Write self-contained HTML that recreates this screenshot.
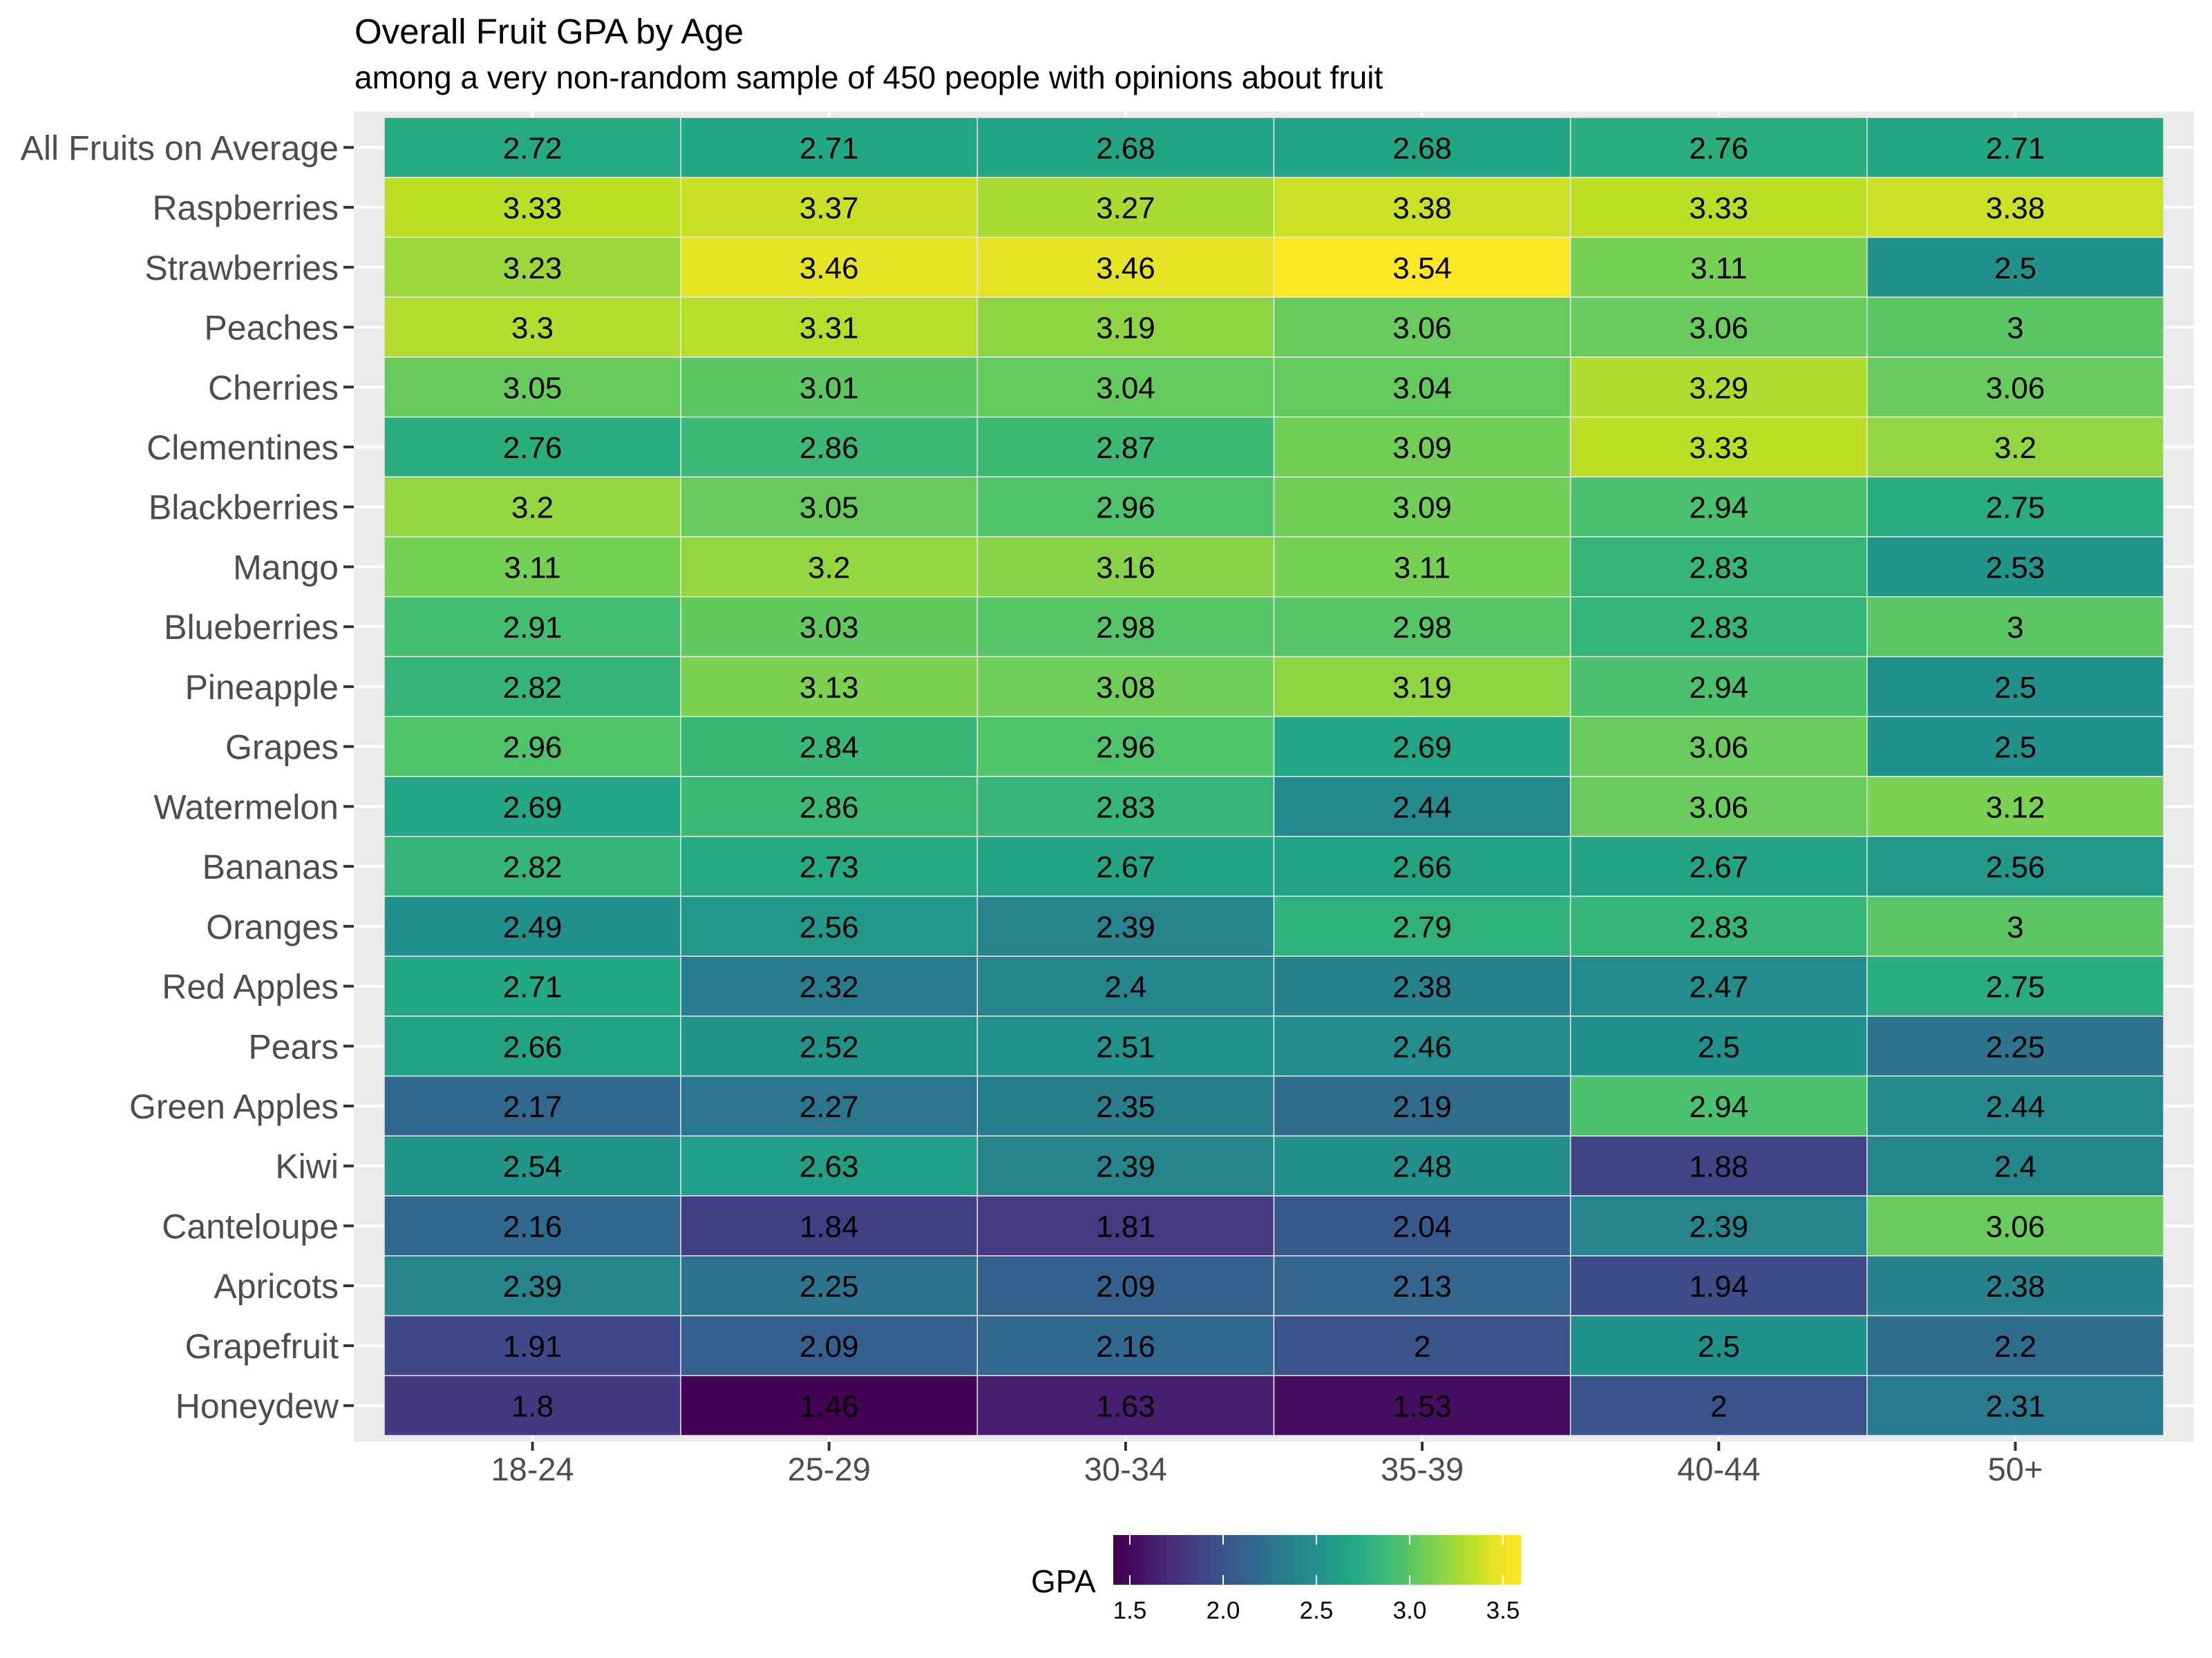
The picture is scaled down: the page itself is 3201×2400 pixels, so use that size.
<!DOCTYPE html>
<html>
<head>
<meta charset="utf-8">
<style>
  html, body { margin: 0; padding: 0; background: #ffffff; }
  svg { display: block; font-family: "Liberation Sans", Arial, sans-serif; }
</style>
</head>
<body>
<svg id="chart" width="3201" height="2400" viewBox="0 0 3201 2400" xmlns="http://www.w3.org/2000/svg">
  <text x="513" y="63" font-size="51" fill="#000">Overall Fruit GPA by Age</text>
  <text x="513" y="128" font-size="46" fill="#000">among a very non-random sample of 450 people with opinions about fruit</text>
  <rect x="512" y="161" width="2663" height="1926" fill="#ebebeb"/>
  <g id="grid"></g>
  <g id="tiles"></g>
  <g id="ylabels"></g>
  <g id="xlabels"></g>
  <defs>
    <linearGradient id="viridisGrad" x1="0" x2="1" y1="0" y2="0"></linearGradient>
  </defs>
  <g id="legend">
    <text x="1492" y="2305" font-size="46" fill="#000">GPA</text>
  </g>
</svg>
<script>
const ageGroups = ["18-24", "25-29", "30-34", "35-39", "40-44", "50+"];
const fruits = ["All Fruits on Average", "Raspberries", "Strawberries", "Peaches", "Cherries", "Clementines", "Blackberries", "Mango", "Blueberries", "Pineapple", "Grapes", "Watermelon", "Bananas", "Oranges", "Red Apples", "Pears", "Green Apples", "Kiwi", "Canteloupe", "Apricots", "Grapefruit", "Honeydew"];
const gpaValues = [
  [2.72, 2.71, 2.68, 2.68, 2.76, 2.71],
  [3.33, 3.37, 3.27, 3.38, 3.33, 3.38],
  [3.23, 3.46, 3.46, 3.54, 3.11, 2.5],
  [3.3, 3.31, 3.19, 3.06, 3.06, 3],
  [3.05, 3.01, 3.04, 3.04, 3.29, 3.06],
  [2.76, 2.86, 2.87, 3.09, 3.33, 3.2],
  [3.2, 3.05, 2.96, 3.09, 2.94, 2.75],
  [3.11, 3.2, 3.16, 3.11, 2.83, 2.53],
  [2.91, 3.03, 2.98, 2.98, 2.83, 3],
  [2.82, 3.13, 3.08, 3.19, 2.94, 2.5],
  [2.96, 2.84, 2.96, 2.69, 3.06, 2.5],
  [2.69, 2.86, 2.83, 2.44, 3.06, 3.12],
  [2.82, 2.73, 2.67, 2.66, 2.67, 2.56],
  [2.49, 2.56, 2.39, 2.79, 2.83, 3],
  [2.71, 2.32, 2.4, 2.38, 2.47, 2.75],
  [2.66, 2.52, 2.51, 2.46, 2.5, 2.25],
  [2.17, 2.27, 2.35, 2.19, 2.94, 2.44],
  [2.54, 2.63, 2.39, 2.48, 1.88, 2.4],
  [2.16, 1.84, 1.81, 2.04, 2.39, 3.06],
  [2.39, 2.25, 2.09, 2.13, 1.94, 2.38],
  [1.91, 2.09, 2.16, 2, 2.5, 2.2],
  [1.8, 1.46, 1.63, 1.53, 2, 2.31]
];
const legendTicks = [1.5, 2.0, 2.5, 3.0, 3.5];

const NS = "http://www.w3.org/2000/svg";
const tileLeft = 556, tileRight = 3131, tileTop = 170, tileBottom = 2078;
const colW = (tileRight - tileLeft) / ageGroups.length;
const rowH = (tileBottom - tileTop) / fruits.length;
const xCenter = i => tileLeft + colW * (i + 0.5);
const yCenter = j => tileTop + rowH * (j + 0.5);

const allVals = gpaValues.flat();
const vMin = Math.min(...allVals), vMax = Math.max(...allVals);

const vir = ["#440154","#482475","#414487","#355f8d","#2a788e","#21918c","#22a884","#44bf70","#7ad151","#bddf26","#fde725"];
function hex2rgb(h){return [parseInt(h.slice(1,3),16),parseInt(h.slice(3,5),16),parseInt(h.slice(5,7),16)];}
function viridis(t){
  t = Math.max(0, Math.min(1, t));
  const p = t * (vir.length - 1), i = Math.min(Math.floor(p), vir.length - 2), f = p - i;
  const a = hex2rgb(vir[i]), b = hex2rgb(vir[i+1]);
  return "rgb(" + a.map((v,k)=>Math.round(v + (b[k]-v)*f)).join(",") + ")";
}
const colorOf = v => viridis((v - vMin) / (vMax - vMin));

function mk(tag, attrs, parent){
  const e = document.createElementNS(NS, tag);
  for (const k in attrs) e.setAttribute(k, attrs[k]);
  parent.appendChild(e);
  return e;
}

const grid = document.getElementById("grid");
ageGroups.forEach((g, i) => {
  const l = mk("line", {x1: xCenter(i), x2: xCenter(i), y1: 161, y2: 2087, stroke: "#fff", "stroke-width": 4}, grid);
  
  
});
fruits.forEach((f, j) => {
  const l = mk("line", {x1: 512, x2: 3175, y1: yCenter(j), y2: yCenter(j), stroke: "#fff", "stroke-width": 4}, grid);
  
  
});

const tiles = document.getElementById("tiles");
gpaValues.forEach((row, j) => {
  row.forEach((v, i) => {
    const r = mk("rect", {x: tileLeft + colW * i, y: tileTop + rowH * j, width: colW, height: rowH, fill: colorOf(v), stroke: "#e8e8e8", "stroke-width": 1.5}, tiles);
    
    
    const t = mk("text", {x: xCenter(i), y: yCenter(j) + 16, "font-size": 44, "text-anchor": "middle", fill: "#000"}, tiles);
    
    
    t.textContent = String(v);
  });
});

const yl = document.getElementById("ylabels");
fruits.forEach((f, j) => {
  const tk = mk("line", {x1: 497, x2: 512, y1: yCenter(j), y2: yCenter(j), stroke: "#333", "stroke-width": 4}, yl);
  
  
  const t = mk("text", {x: 490, y: yCenter(j) + 18, "font-size": 50, "text-anchor": "end", fill: "#4d4d4d"}, yl);
  
  
  t.textContent = f;
});

const xl = document.getElementById("xlabels");
ageGroups.forEach((g, i) => {
  const tk = mk("line", {x1: xCenter(i), x2: xCenter(i), y1: 2087, y2: 2100, stroke: "#333", "stroke-width": 4}, xl);
  
  
  const t = mk("text", {x: xCenter(i), y: 2143, "font-size": 47, "text-anchor": "middle", fill: "#4d4d4d"}, xl);
  
  
  t.textContent = g;
});

const lgLeft = 1611, lgRight = 2201, lgTop = 2222, lgBottom = 2294;
const legScale = v => 1635 + (v - 1.5) * 270;
const legMin = 1.5 + (lgLeft - 1635) / 270, legMax = 1.5 + (lgRight - 1635) / 270;
const grad = document.getElementById("viridisGrad");
for (let k = 0; k <= 20; k++) {
  const v = legMin + (legMax - legMin) * k / 20;
  mk("stop", {offset: (k * 5) + "%", "stop-color": colorOf(Math.max(vMin, Math.min(vMax, v)))}, grad);
}
const lg = document.getElementById("legend");
const bar = mk("rect", {x: lgLeft, y: lgTop, width: lgRight - lgLeft, height: lgBottom - lgTop, fill: "url(#viridisGrad)"}, lg);


legendTicks.forEach(v => {
  const x = legScale(v);
  const a = mk("line", {x1: x, x2: x, y1: lgTop, y2: lgTop + 14, stroke: "#fff", "stroke-width": 2}, lg);
  
  
  const b = mk("line", {x1: x, x2: x, y1: lgBottom - 14, y2: lgBottom, stroke: "#fff", "stroke-width": 2}, lg);
  
  
  const t = mk("text", {x: x, y: 2343, "font-size": 35, "text-anchor": "middle", fill: "#000"}, lg);
  
  
  t.textContent = v.toFixed(1);
});
</script>
</body>
</html>
